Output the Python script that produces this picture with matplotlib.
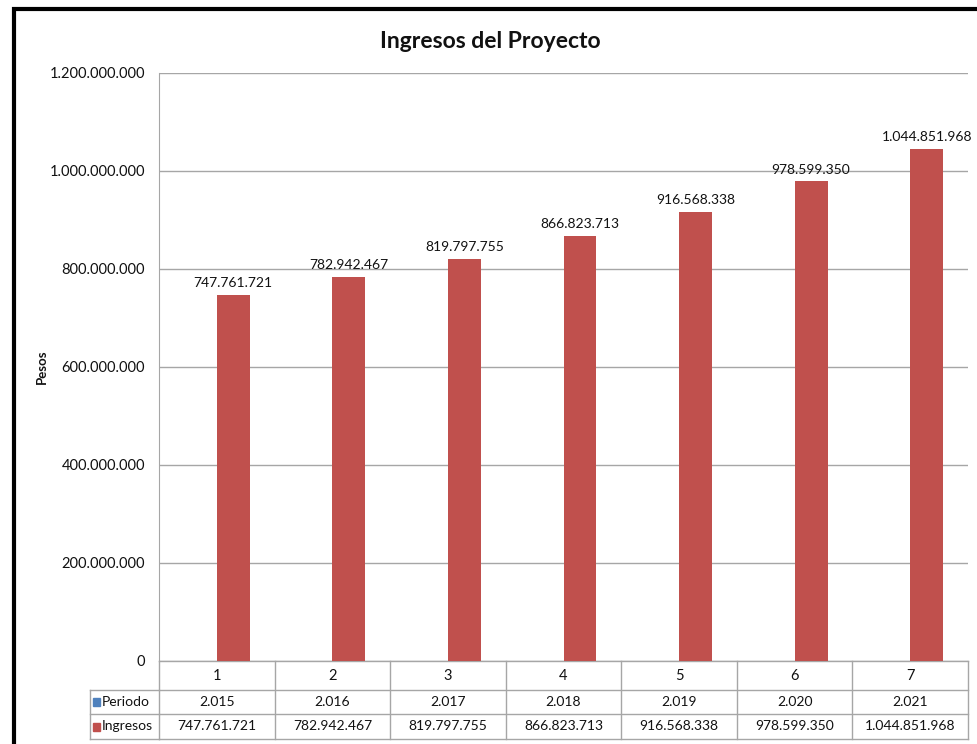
import matplotlib
matplotlib.use("Agg")
import matplotlib.pyplot as plt
from matplotlib.patches import Rectangle
from matplotlib.lines import Line2D
import matplotlib.transforms as mtransforms
import numpy as np

plt.rcParams['font.family'] = ['Lato', 'DejaVu Sans']

categories = ["1", "2", "3", "4", "5", "6", "7"]
periodo = [2015, 2016, 2017, 2018, 2019, 2020, 2021]
ingresos = [747761721, 782942467, 819797755, 866823713, 916568338, 978599350, 1044851968]
yticks = [0, 200000000, 400000000, 600000000, 800000000, 1000000000, 1200000000]

def fmt(v):
    return f"{v:,}".replace(",", ".")

W, H = 977, 744
fig = plt.figure(figsize=(W / 100, H / 100), dpi=100)
fig.patch.set_facecolor("white")

left, right, bottom, top = 159 / W, 968 / W, 1 - 661 / H, 1 - 73 / H
ax = fig.add_axes([left, bottom, right - left, top - bottom])

txt = "#111111"
x = np.arange(len(categories))
bw = 0.285
blue = "#4F81BD"
red = "#C0504D"
ax.bar(x - bw / 2, periodo, bw, color=blue, zorder=3)
ax.bar(x + bw / 2, ingresos, bw, color=red, zorder=3)
for xi, v in zip(x, ingresos):
    ax.text(xi + bw / 2, v + 12000000, fmt(v), ha="center", va="bottom",
            fontsize=10, color=txt, zorder=4)

ax.set_xlim(-0.5, len(categories) - 0.5)
ax.set_ylim(0, 1200000000)
ax.set_yticks(yticks)
ax.set_yticklabels([fmt(v) for v in yticks], fontsize=10.5, color=txt)
ax.tick_params(axis="y", length=0, pad=10)
ax.set_xticks([])
ax.grid(axis="y", color="#A6A6A6", linewidth=1, zorder=0)
for s in ["top", "right", "bottom"]:
    ax.spines[s].set_visible(False)
ax.spines["left"].set_color("#A6A6A6")

fig.text(42 / W, 1 - 367 / H, "Pesos", rotation=90, ha="center", va="center",
         fontsize=9.5, fontweight="bold", color=txt)

fig.text(490 / W, 1 - 41 / H, "Ingresos del Proyecto", ha="center", va="center",
         fontsize=16.5, fontweight="bold", color=txt)

# Data table beneath the plot, columns aligned with the category axis
trans = mtransforms.blended_transform_factory(ax.transData, fig.transFigure)
gc = "#A6A6A6"
y_rows = [661, 690, 714, 739]
yf = [1 - v / H for v in y_rows]
xb = np.arange(len(categories) + 1) - 0.5
for yy in yf:
    ax.add_line(Line2D([xb[0], xb[-1]], [yy, yy], transform=trans, color=gc, lw=1, clip_on=False))
for xx in xb:
    ax.add_line(Line2D([xx, xx], [yf[0], yf[-1]], transform=trans, color=gc, lw=1, clip_on=False))
lx0 = 90 / W
lx1 = 159 / W
for yy in yf[1:]:
    fig.add_artist(Line2D([lx0, lx1], [yy, yy], color=gc, lw=1))
fig.add_artist(Line2D([lx0, lx0], [yf[1], yf[3]], color=gc, lw=1))

def mid(a, b):
    return (a + b) / 2

for xi, c, p, v in zip(x, categories, periodo, ingresos):
    ax.text(xi, mid(yf[0], yf[1]), c, transform=trans, ha="center", va="center",
            fontsize=10.5, color=txt)
    ax.text(xi, mid(yf[1], yf[2]), fmt(p), transform=trans, ha="center", va="center",
            fontsize=10, color=txt)
    ax.text(xi, mid(yf[2], yf[3]), fmt(v), transform=trans, ha="center", va="center",
            fontsize=10, color=txt)

for (name, col), r in zip([("Periodo", blue), ("Ingresos", red)], [1, 2]):
    yc = mid(yf[r], yf[r + 1])
    fig.add_artist(Rectangle((93 / W, yc - 4 / H), 7 / W, 8 / H, color=col))
    fig.text(102 / W, yc, name, ha="left", va="center", fontsize=10, color=txt)

# chart frame
fig.add_artist(Rectangle((13.5 / W, -0.2), 1.5, 1.2 - 9 / H, fill=False,
                         edgecolor="black", lw=3))

fig.savefig("out.png", dpi=100, facecolor="white")
